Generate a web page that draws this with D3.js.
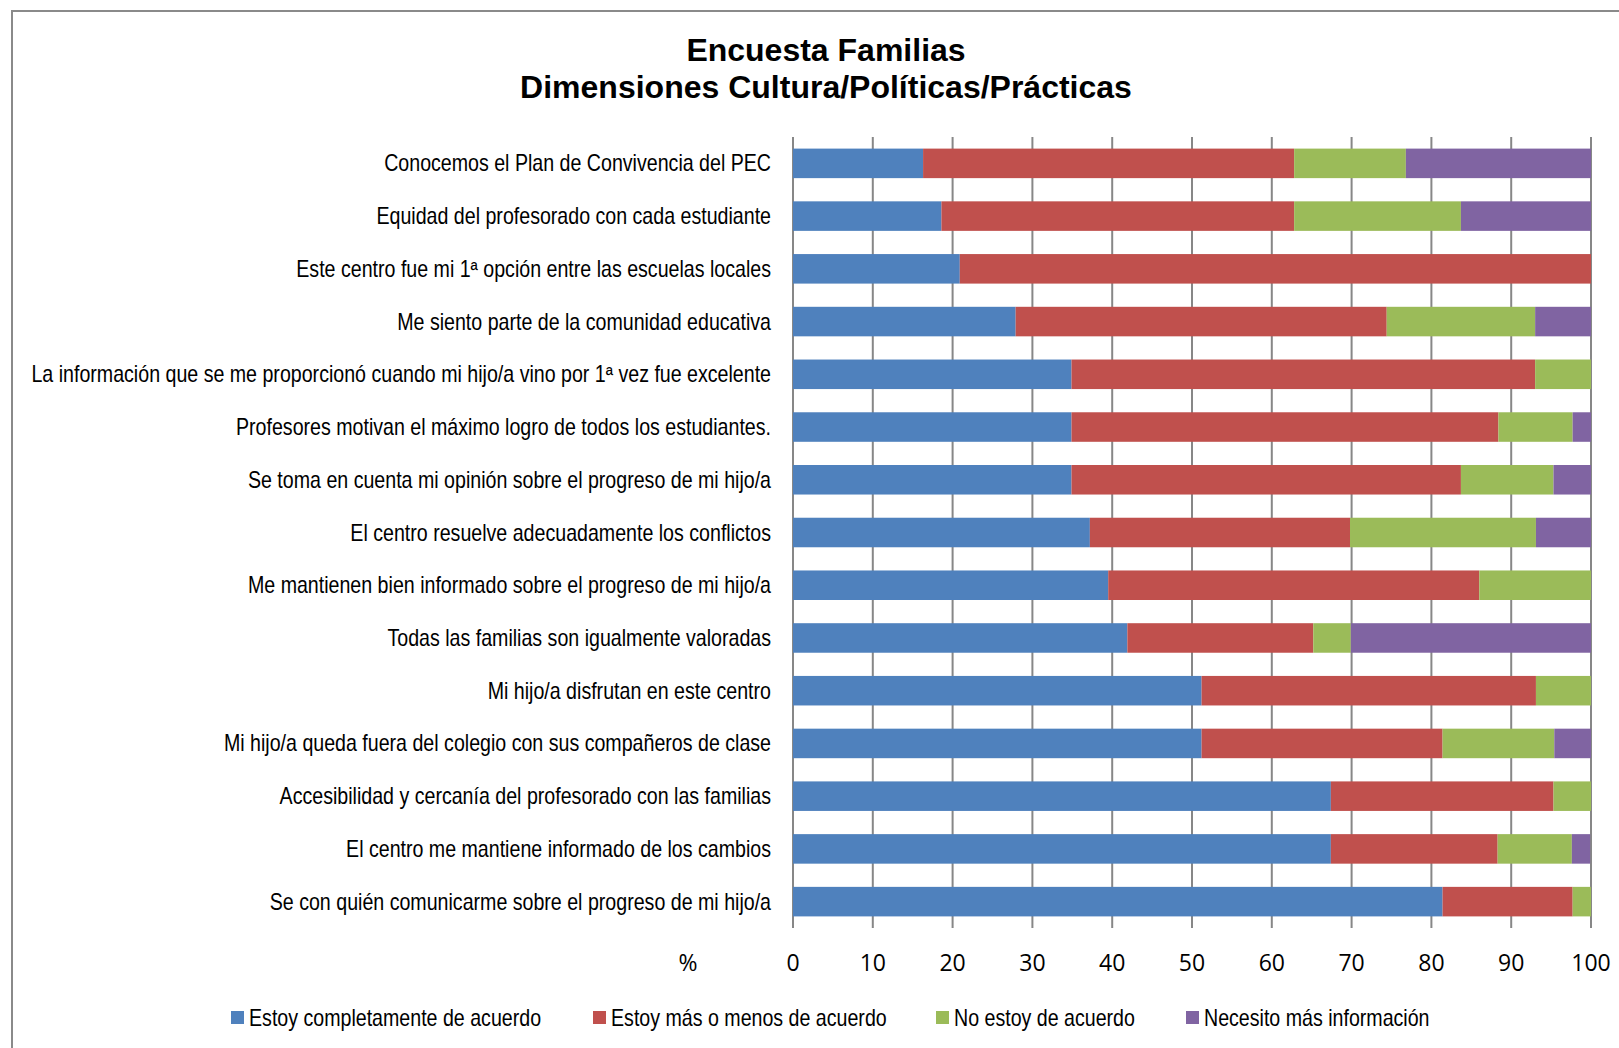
<!DOCTYPE html>
<html>
<head>
<meta charset="utf-8">
<script src="https://cdn.jsdelivr.net/npm/d3@7"></script>
<style>
  body { margin: 0; background: #fff; }
  .cat { font-family: "Liberation Sans", Arial, sans-serif; font-size: 23px; }
</style>
</head>
<body>
<div id="chart"></div>
<script>
// Chart data (percent of answers per statement)
const categories = [
  "Conocemos el Plan de Convivencia del PEC",
  "Equidad del profesorado con cada estudiante",
  "Este centro fue mi 1ª opción entre las escuelas locales",
  "Me siento parte de la comunidad educativa",
  "La información que se me proporcionó cuando mi hijo/a vino por 1ª vez fue excelente",
  "Profesores motivan el máximo logro de todos los estudiantes.",
  "Se toma en cuenta mi opinión sobre el progreso de mi hijo/a",
  "El centro resuelve adecuadamente los conflictos",
  "Me mantienen bien informado sobre el progreso de mi hijo/a",
  "Todas las familias son igualmente valoradas",
  "Mi hijo/a disfrutan en este centro",
  "Mi hijo/a queda fuera del colegio con sus compañeros de clase",
  "Accesibilidad y cercanía del profesorado con las familias",
  "El centro me mantiene informado de los cambios",
  "Se con quién comunicarme sobre el progreso de mi hijo/a"
];
const seriesNames = [
  "Estoy completamente de acuerdo",
  "Estoy más o menos de acuerdo",
  "No estoy de acuerdo",
  "Necesito más información"
];
const completamente = [16.3, 18.6, 20.9, 27.9, 34.9, 34.9, 34.9, 37.2, 39.5, 41.9, 51.2, 51.2, 67.4, 67.4, 81.4];
const masOMenos     = [46.5, 44.2, 79.1, 46.5, 58.1, 53.5, 48.8, 32.6, 46.5, 23.3, 41.9, 30.2, 27.9, 20.9, 16.3];
const noAcuerdo     = [14.0, 20.9, 0.0, 18.6, 7.0, 9.3, 11.6, 23.3, 14.0, 4.7, 7.0, 14.0, 4.7, 9.3, 2.3];
const masInfo       = [23.3, 16.3, 0.0, 7.0, 0.0, 2.3, 4.7, 7.0, 0.0, 30.2, 0.0, 4.7, 0.0, 2.3, 0.0];
const xTicks = [0, 10, 20, 30, 40, 50, 60, 70, 80, 90, 100];
const titleLines = ["Encuesta Familias", "Dimensiones Cultura/Políticas/Prácticas"];

const colors = ["#4F81BD", "#C0504D", "#9BBB59", "#8064A2"];
const W = 1619, H = 1048;
const narrow = 0.853; // squeeze the labels like a narrow face

const svg = d3.select("#chart").append("svg")
    .attr("width", W)
    .attr("height", H);

// Chart frame
svg.append("rect")
    .attr("x", 12).attr("y", 11)
    .attr("width", W + 20).attr("height", H + 20)
    .attr("fill", "#fff")
    .attr("stroke", "#8a8a8a")
    .attr("stroke-width", 2);

// Title
svg.append("g").selectAll("text")
  .data(titleLines)
  .join("text")
    .attr("x", 826)
    .attr("y", (d, i) => 61 + i * 37)
    .attr("text-anchor", "middle")
    .style("font-family", "'Liberation Sans', Arial, sans-serif")
    .style("font-weight", "bold")
    .style("font-size", "32px")
    .text(d => d);

// Scales
const x = d3.scaleLinear().domain([0, 100]).range([793, 1591]);
const y = d3.scaleBand().domain(categories).range([137, 928]).paddingInner(0.44).paddingOuter(0.22);

// Gridlines
svg.append("g").selectAll("line")
  .data(xTicks)
  .join("line")
    .attr("x1", d => x(d)).attr("x2", d => x(d))
    .attr("y1", 137).attr("y2", 928)
    .attr("stroke", "#878787")
    .attr("stroke-width", 2);

// Stacked bars
const rows = categories.map((c, i) => ({
  cat: c,
  vals: [completamente[i], masOMenos[i], noAcuerdo[i], masInfo[i]]
}));
const stack = d3.stack().keys([0, 1, 2, 3]).value((d, k) => d.vals[k]);
const layers = stack(rows);

svg.append("g").selectAll("g")
  .data(layers)
  .join("g")
    .attr("fill", (d, i) => colors[i])
  .selectAll("rect")
  .data(d => d)
  .join("rect")
    .attr("x", d => x(d[0]))
    .attr("width", d => Math.max(0, x(Math.min(100, d[1])) - x(d[0])))
    .attr("y", d => y(d.data.cat))
    .attr("height", y.bandwidth());

// Category labels
svg.append("g").selectAll("text")
  .data(categories)
  .join("text")
    .attr("class", "cat")
    .attr("transform", d => `translate(771,${y(d) + y.bandwidth() / 2}) scale(${narrow},1)`)
    .attr("dy", "0.35em")
    .attr("text-anchor", "end")
    .text(d => d);

// Tick labels
svg.append("g").selectAll("text")
  .data(xTicks)
  .join("text")
    .attr("x", d => x(d))
    .attr("y", 971)
    .attr("text-anchor", "middle")
    .style("font-family", "'Open Sans', sans-serif")
    .style("font-size", "23px")
    .text(d => d);

svg.append("text")
    .attr("x", 688)
    .attr("y", 971)
    .attr("text-anchor", "middle")
    .style("font-family", "'Open Sans', sans-serif")
    .style("font-size", "23px")
    .text("%");

// Legend
const legendX = [231, 593, 936, 1186];
const legend = svg.append("g").selectAll("g")
  .data(seriesNames)
  .join("g")
    .attr("transform", (d, i) => `translate(${legendX[i]},1018)`);

legend.append("rect")
    .attr("y", -7)
    .attr("width", 13).attr("height", 13)
    .attr("fill", (d, i) => colors[i]);

legend.append("text")
    .attr("class", "cat")
    .attr("transform", `translate(18,0) scale(${narrow},1)`)
    .attr("dy", "0.35em")
    .text(d => d);
</script>
</body>
</html>
